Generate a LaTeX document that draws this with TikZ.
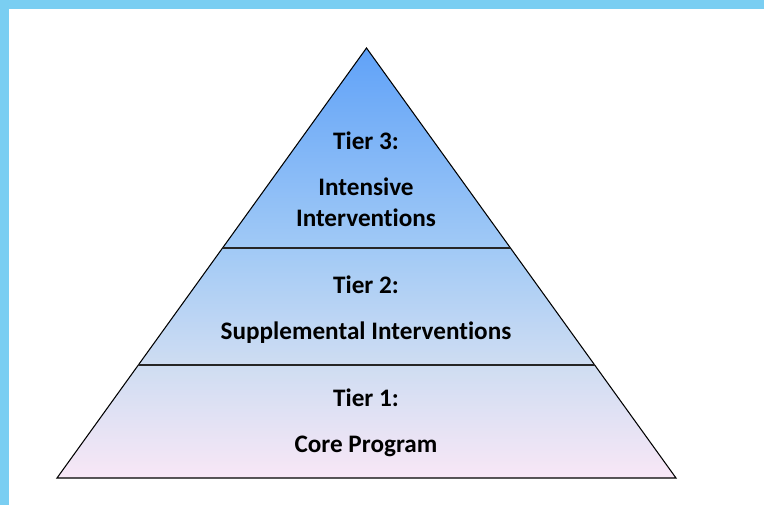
\documentclass[tikz,border=0pt]{standalone}
\usepackage{fontspec}
\setmainfont[Ligatures=NoCommon]{Carlito}
\usetikzlibrary{calc,positioning}

\definecolor{frameblue}{RGB}{122,206,242}
\definecolor{tiertop}{RGB}{96,162,248}
\definecolor{tiermid}{RGB}{160,201,246}
\definecolor{tierlow}{RGB}{207,221,242}
\definecolor{tierbot}{RGB}{248,231,246}
\pgfdeclareverticalshading{tiershade}{100bp}{color(0bp)=(tierbot); color(25bp)=(tierbot);
    color(38bp)=(tierlow); color(52bp)=(tiermid); color(75bp)=(tiertop); color(100bp)=(tiertop)}

\begin{document}
\begin{tikzpicture}[x=0.03cm,y=-0.03cm,
    tier/.style={font=\fontsize{21.5}{25}\selectfont\bfseries, inner sep=0pt, text height=16pt, text depth=5pt},
    divider/.style={line width=1.7pt, draw=black!85}]
    % Frame
    \useasboundingbox (0,0) rectangle (764,505);
    \fill[white] (0,0) rectangle (764,505);
    \fill[frameblue] (0,0) rectangle (764,9);
    \fill[frameblue] (0,0) rectangle (9,505);

    % Define corners
    \coordinate (apex) at (366.5,48);
    \coordinate (BL) at (57,478);
    \coordinate (BR) at (676,478);
    \coordinate (L2) at ($(apex)!0.465!(BL)$);
    \coordinate (R2) at ($(apex)!0.465!(BR)$);
    \coordinate (L1) at ($(apex)!0.737!(BL)$);
    \coordinate (R1) at ($(apex)!0.737!(BR)$);

    % Pyramid
    \shade[shading=tiershade] (apex) -- (BL) -- (BR) -- cycle;
    \draw[line width=0.9pt, line join=miter] (apex) -- (BL) -- (BR) -- cycle;
    \draw[divider] (L2) -- (R2);
    \draw[divider] (L1) -- (R1);

    % Labels
    \node[tier] (T3) at (366,143) {Tier 3:};
    \node[tier, below=18pt of T3] (T3a) {Intensive};
    \node[tier, below=5.2pt of T3a] (T3b) {Interventions};

    \node[tier] (T2) at (366,287) {Tier 2:};
    \node[tier, below=18pt of T2] (T2a) {Supplemental Interventions};

    \node[tier] (T1) at (366,400) {Tier 1:};
    \node[tier, below=17.5pt of T1] (T1a) {Core Program};

\end{tikzpicture}
\end{document}
